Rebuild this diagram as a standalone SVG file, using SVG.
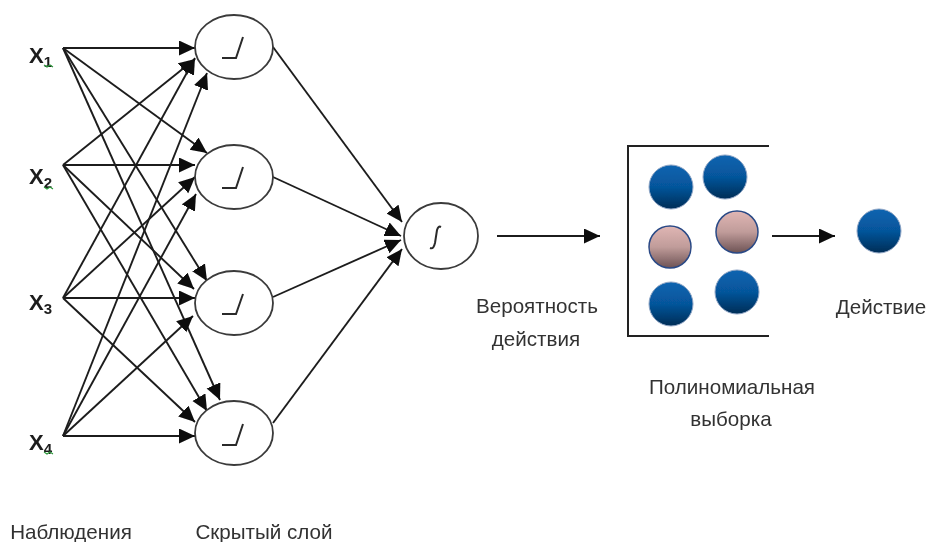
<svg xmlns="http://www.w3.org/2000/svg" width="928" height="542" viewBox="0 0 928 542">
<style>
.n{fill:#fff;stroke:#3a3a3a;stroke-width:1.8}
.c line{stroke:#1c1c1c;stroke-width:1.9;marker-end:url(#a)}
.lb{font-family:"Liberation Sans",Arial,sans-serif;font-size:20.6px;fill:#333;text-anchor:middle}
.x{font-family:"Liberation Sans",Arial,sans-serif;font-weight:bold;font-size:22px;fill:#1c1c1c}
.s{font-size:15px;font-weight:bold}
.g{fill:none;stroke:#2a2a2a;stroke-width:2}
.sq{fill:none;stroke:#2c9a3c;stroke-width:1.1}
.b{fill:url(#blue);stroke:#8ea4c4;stroke-width:1}
.p{fill:url(#pink);stroke:#2b4a86;stroke-width:1.5}
</style>
<defs>
<marker id="a" markerUnits="userSpaceOnUse" markerWidth="18" markerHeight="17" refX="16" refY="7.5" orient="auto"><path d="M0 0L16 7.5L0 15Z" fill="#0c0c0c"/></marker>
<linearGradient id="blue" x1="0" y1="0" x2="0" y2="1"><stop offset="0" stop-color="#0a64b0"/><stop offset="0.5" stop-color="#06559b"/><stop offset="1" stop-color="#012d56"/></linearGradient>
<linearGradient id="pink" x1="0" y1="0" x2="0" y2="1"><stop offset="0" stop-color="#e0b6b4"/><stop offset="0.5" stop-color="#c09c9a"/><stop offset="1" stop-color="#6d5254"/></linearGradient>
<filter id="soft" x="0" y="0" width="928" height="542" filterUnits="userSpaceOnUse"><feGaussianBlur stdDeviation="0.5"/></filter>
</defs>
<rect width="928" height="542" fill="#fff"/>
<g filter="url(#soft)">
<g id="connectors" class="c">
<line x1="63" y1="48" x2="195" y2="48"/>
<line x1="63" y1="48" x2="207" y2="153"/>
<line x1="63" y1="48" x2="207" y2="281"/>
<line x1="63" y1="48" x2="220" y2="400"/>
<line x1="63" y1="165" x2="195" y2="59"/>
<line x1="63" y1="165" x2="195" y2="165"/>
<line x1="63" y1="165" x2="194" y2="289"/>
<line x1="63" y1="165" x2="207" y2="411"/>
<line x1="63" y1="298" x2="195" y2="58"/>
<line x1="63" y1="298" x2="195" y2="177"/>
<line x1="63" y1="298" x2="195" y2="298"/>
<line x1="63" y1="298" x2="195" y2="422"/>
<line x1="63" y1="436" x2="207" y2="73"/>
<line x1="63" y1="436" x2="196" y2="194"/>
<line x1="63" y1="436" x2="193" y2="316"/>
<line x1="63" y1="436" x2="195" y2="436"/>
<line x1="273" y1="47" x2="402" y2="222"/>
<line x1="273" y1="177" x2="401" y2="236"/>
<line x1="273" y1="297" x2="401" y2="240"/>
<line x1="273" y1="423" x2="402" y2="249"/>
<line x1="497" y1="236" x2="600" y2="236"/>
<line x1="772" y1="236" x2="835" y2="236"/>
</g>
<g id="x1"><text class="x" x="29" y="63">X<tspan class="s" dy="4">1</tspan></text><path class="sq" d="M44 65l3 2 3-2 3 2"/></g>
<g id="x2"><text class="x" x="29" y="184">X<tspan class="s" dy="4">2</tspan></text><path class="sq" d="M44 187l3 2 3-2 3 2"/></g>
<g id="x3"><text class="x" x="29" y="310">X<tspan class="s" dy="4">3</tspan></text></g>
<g id="x4"><text class="x" x="29" y="450">X<tspan class="s" dy="4">4</tspan></text><path class="sq" d="M44 452l3 2 3-2 3 2"/></g>
<g id="h1"><ellipse class="n" cx="234" cy="47" rx="39" ry="32"/><path class="g" d="M222 58H236L243 37"/></g>
<g id="h2"><ellipse class="n" cx="234" cy="177" rx="39" ry="32"/><path class="g" d="M222 188H236L243 167"/></g>
<g id="h3"><ellipse class="n" cx="234" cy="303" rx="39" ry="32"/><path class="g" d="M222 314H236L243 294"/></g>
<g id="h4"><ellipse class="n" cx="234" cy="433" rx="39" ry="32"/><path class="g" d="M222 445H236L243 424"/></g>
<g id="out"><ellipse class="n" cx="441" cy="236" rx="37" ry="33"/><path class="g" d="M430 248c3 1 4-1 5-5l2-13c1-3 2-4 4-3"/></g>
<g id="sample">
<path d="M769 146H628V336H769" fill="none" stroke="#222" stroke-width="2"/>
<circle class="b" cx="671" cy="187" r="22"/>
<circle class="b" cx="725" cy="177" r="22"/>
<circle class="p" cx="670" cy="247" r="21"/>
<circle class="p" cx="737" cy="232" r="21"/>
<circle class="b" cx="671" cy="304" r="22"/>
<circle class="b" cx="737" cy="292" r="22"/>
</g>
<g id="action"><circle class="b" cx="879" cy="231" r="22"/></g>
<g id="labels">
<text class="lb" x="71" y="539">Наблюдения</text>
<text class="lb" x="264" y="539">Скрытый слой</text>
<text class="lb" x="537" y="313">Вероятность</text>
<text class="lb" x="536" y="346">действия</text>
<text class="lb" x="732" y="394">Полиномиальная</text>
<text class="lb" x="731" y="426">выборка</text>
<text class="lb" x="881" y="314">Действие</text>
</g>
</g>
</svg>
